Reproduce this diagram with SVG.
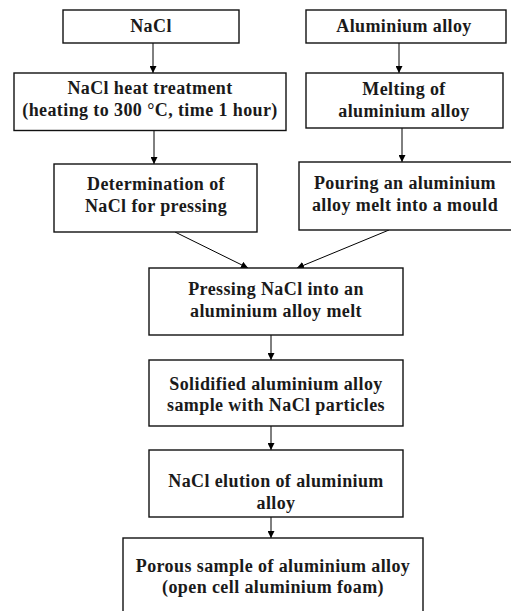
<svg xmlns="http://www.w3.org/2000/svg" width="511" height="611" viewBox="0 0 511 611">
<defs>
<marker id="ah" viewBox="0 0 10 10" refX="10" refY="5" markerWidth="7" markerHeight="7" markerUnits="userSpaceOnUse" orient="auto">
<path d="M0,0 L10,5 L0,10 z" fill="#000"/>
</marker>
<style>
.box{fill:#fff;stroke:#111;stroke-width:1.4}
.t{font-family:"Liberation Serif","Times New Roman",serif;font-weight:bold;font-size:18px;letter-spacing:0.4px;fill:#1a1a1a;text-anchor:middle}
.c{stroke:#000;stroke-width:1;fill:none;marker-end:url(#ah)}
</style>
</defs>
<rect width="511" height="611" fill="#fff"/>
<g id="connectors">
<line class="c" x1="153" y1="43" x2="153" y2="73"/>
<line class="c" x1="399" y1="43" x2="399" y2="73"/>
<line class="c" x1="154" y1="130.5" x2="154" y2="164"/>
<line class="c" x1="402" y1="128" x2="402" y2="162"/>
<line class="c" x1="175" y1="232" x2="248" y2="268"/>
<line class="c" x1="389" y1="230" x2="297" y2="268"/>
<line class="c" x1="271" y1="335" x2="271" y2="360"/>
<line class="c" x1="271" y1="426" x2="271" y2="450"/>
<line class="c" x1="271" y1="517" x2="271" y2="538"/>
</g>
<g id="n1"><rect class="box" x="63" y="10" width="176" height="33"/><text class="t" x="151" y="32">NaCl</text></g>
<g id="n2"><rect class="box" x="306" y="10" width="200" height="33"/><text class="t" x="404" y="32">Aluminium alloy</text></g>
<g id="n3"><rect class="box" x="14" y="73" width="272" height="57.5"/><text class="t" x="150" y="94">NaCl heat treatment</text><text class="t" x="150" y="116">(heating to 300 °C, time 1 hour)</text></g>
<g id="n4"><rect class="box" x="306" y="73" width="197" height="55"/><text class="t" x="404" y="95">Melting of</text><text class="t" x="404" y="117">aluminium alloy</text></g>
<g id="n5"><rect class="box" x="54" y="164" width="203" height="68"/><text class="t" x="156" y="190">Determination of</text><text class="t" x="156" y="212">NaCl for pressing</text></g>
<g id="n6"><rect class="box" x="299" y="162" width="214" height="68"/><text class="t" x="405" y="189">Pouring an aluminium</text><text class="t" x="405" y="211">alloy melt into a mould</text></g>
<g id="n7"><rect class="box" x="149" y="268" width="254" height="67"/><text class="t" x="276" y="295">Pressing NaCl into an</text><text class="t" x="276" y="317">aluminium alloy melt</text></g>
<g id="n8"><rect class="box" x="149" y="360" width="254" height="66"/><text class="t" x="276" y="390">Solidified aluminium alloy</text><text class="t" x="276" y="411">sample with NaCl particles</text></g>
<g id="n9"><rect class="box" x="149" y="450" width="254" height="67"/><text class="t" x="276" y="487">NaCl elution of aluminium</text><text class="t" x="276" y="509">alloy</text></g>
<g id="n10"><rect class="box" x="123" y="538" width="300" height="80"/><text class="t" x="273" y="572">Porous sample of aluminium alloy</text><text class="t" x="273" y="593">(open cell aluminium foam)</text></g>
</svg>
